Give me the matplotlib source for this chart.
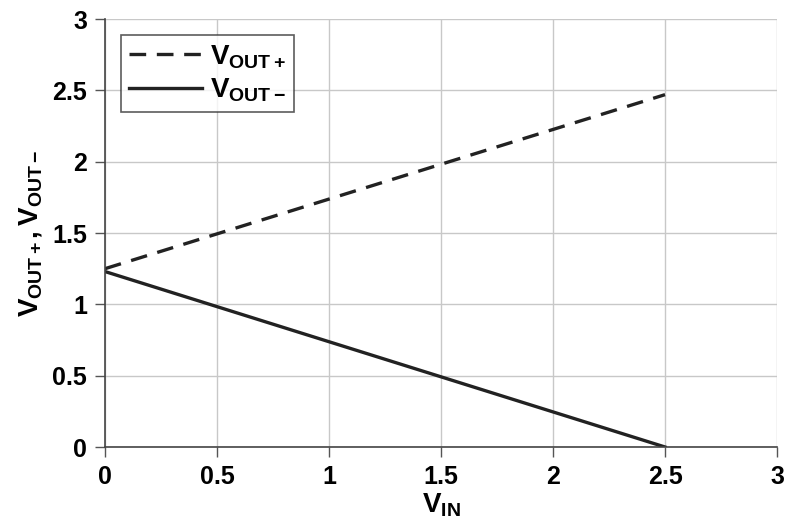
import matplotlib
matplotlib.use("Agg")
import matplotlib.pyplot as plt

FONT = "Liberation Sans"
plt.rcParams["font.family"] = [FONT, "DejaVu Sans"]
plt.rcParams["font.weight"] = "bold"
plt.rcParams["mathtext.fontset"] = "custom"
plt.rcParams["mathtext.rm"] = f"{FONT}:bold"
plt.rcParams["mathtext.bf"] = f"{FONT}:bold"
plt.rcParams["mathtext.it"] = f"{FONT}:bold"

vin = [0.0, 2.5]
vout_pos = [1.25, 2.47]
vout_neg = [1.23, 0.0]
ticks = [0, 0.5, 1, 1.5, 2, 2.5, 3]
tick_labels = ["0", "0.5", "1", "1.5", "2", "2.5", "3"]

fig = plt.figure(figsize=(7.86, 5.29), dpi=100)
ax = fig.add_axes([0.1336, 0.155, 0.855, 0.809])

ax.plot(vin, vout_pos, ls=(0, (5, 3.2)), color="#222222", lw=2.4, label=r"$\mathbf{V_{OUT+}}$")
ax.plot(vin, vout_neg, ls="-", color="#222222", lw=2.4, label=r"$\mathbf{V_{OUT-}}$")

ax.set_xlim(0, 3)
ax.set_ylim(0, 3)
ax.set_xticks(ticks)
ax.set_xticklabels(tick_labels)
ax.set_yticks(ticks)
ax.set_yticklabels(tick_labels)
ax.tick_params(labelsize=18, length=7, width=1, color="#555555", pad=6, direction="out")
ax.grid(color="#c8c8c8", lw=1)
ax.set_axisbelow(True)
for s in ("top", "right"):
    ax.spines[s].set_visible(False)
for s in ("left", "bottom"):
    ax.spines[s].set_color("#444444")
    ax.spines[s].set_linewidth(1.2)

ax.set_xlabel(r"$\mathbf{V_{IN}}$", fontsize=20, labelpad=2)
ax.set_ylabel(r"$\mathbf{V_{OUT+}, V_{OUT-}}$", fontsize=20, labelpad=6)

leg = ax.legend(loc="upper left", bbox_to_anchor=(0.024, 0.963), fontsize=20, frameon=True,
                fancybox=False, edgecolor="#333333", handlelength=2.6, handletextpad=0.3,
                borderpad=0.3, labelspacing=0.2, borderaxespad=0)
leg.get_frame().set_linewidth(1.2)

fig.savefig("out.png", dpi=100)
